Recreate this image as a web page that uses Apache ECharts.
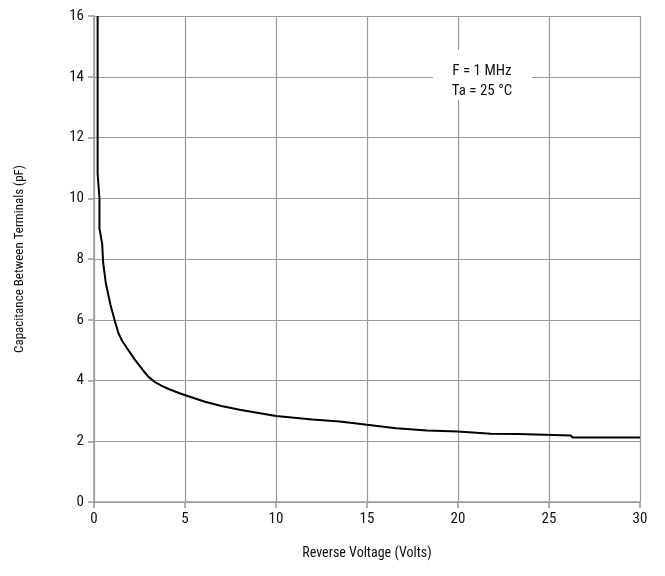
<!DOCTYPE html>
<html>
<head>
<meta charset="utf-8">
<script src="https://cdn.jsdelivr.net/npm/echarts@6/dist/echarts.min.js"></script>
<style>html,body{margin:0;padding:0;background:#fff;}#c{width:665px;height:576px;}</style>
</head>
<body>
<div id="c"></div>
<script>
var voltage = [0.2, 0.2, 0.3, 0.3, 0.45, 0.5, 0.65, 0.9, 1.15, 1.35, 1.55, 1.8, 2.2, 2.7, 3.0, 3.35, 3.7, 4.1, 4.7, 5.1, 6.1, 7, 8, 10, 12, 13.5, 15, 16.6, 18.3, 20, 21.8, 23.3, 23.4, 26.2, 26.3, 30];
var capacitance = [16, 10.8, 10.0, 9.0, 8.5, 7.9, 7.2, 6.5, 5.95, 5.55, 5.3, 5.08, 4.72, 4.33, 4.12, 3.95, 3.83, 3.72, 3.58, 3.5, 3.3, 3.16, 3.04, 2.83, 2.72, 2.65, 2.54, 2.43, 2.35, 2.32, 2.25, 2.24, 2.19, 2.19, 2.12, 2.12];
var xTicks = [0, 5, 10, 15, 20, 25, 30];
var yTicks = [0, 2, 4, 6, 8, 10, 12, 14, 16];
var note = ['F = 1 MHz', 'Ta = 25 °C'];

var pts = voltage.map(function (v, i) { return [v, capacitance[i]]; });
var font = "'Liberation Sans Narrow', 'Roboto Condensed', 'Liberation Sans', Arial, sans-serif";
var gridColor = '#9a9a9a';

var chart = echarts.init(document.getElementById('c'));
chart.setOption({
  animation: false,
  backgroundColor: '#fff',
  grid: { left: 94, right: 25, top: 16, bottom: 74, containLabel: false },
  graphic: [
    { type: 'rect', z: 10, shape: { x: 433, y: 50, width: 99, height: 50 }, style: { fill: '#fff' } },
    { type: 'text', z: 11, x: 482, y: 61,
      style: { text: note.join('\n'), textAlign: 'center', textVerticalAlign: 'top',
               font: '15px ' + font, lineHeight: 20, fill: '#111' } }
  ],
  xAxis: {
    type: 'value', min: xTicks[0], max: xTicks[xTicks.length - 1], interval: 5,
    name: 'Reverse Voltage (Volts)', nameLocation: 'middle', nameGap: 44,
    nameTextStyle: { fontFamily: font, fontSize: 14, color: '#111' },
    axisLine: { show: true, lineStyle: { color: gridColor, width: 1.5 } },
    axisTick: { show: true, length: 6, lineStyle: { color: gridColor, width: 1.5 } },
    axisLabel: { fontFamily: font, fontSize: 15, color: '#111', margin: 10 },
    splitLine: { show: true, lineStyle: { color: gridColor, width: 1.2 } }
  },
  yAxis: {
    type: 'value', min: yTicks[0], max: yTicks[yTicks.length - 1], interval: 2,
    name: 'Capacitance Between Terminals (pF)', nameLocation: 'middle', nameGap: 68,
    nameTextStyle: { fontFamily: font, fontSize: 13, color: '#111' },
    axisLine: { show: true, lineStyle: { color: gridColor, width: 1.5 } },
    axisTick: { show: true, length: 6, lineStyle: { color: gridColor, width: 1.5 } },
    axisLabel: { fontFamily: font, fontSize: 15, color: '#111', margin: 10 },
    splitLine: { show: true, lineStyle: { color: gridColor, width: 1.2 } }
  },
  series: [{
    type: 'line', data: pts, symbol: 'none', smooth: false,
    lineStyle: { color: '#000', width: 2 }
  }]
});
</script>
</body>
</html>
